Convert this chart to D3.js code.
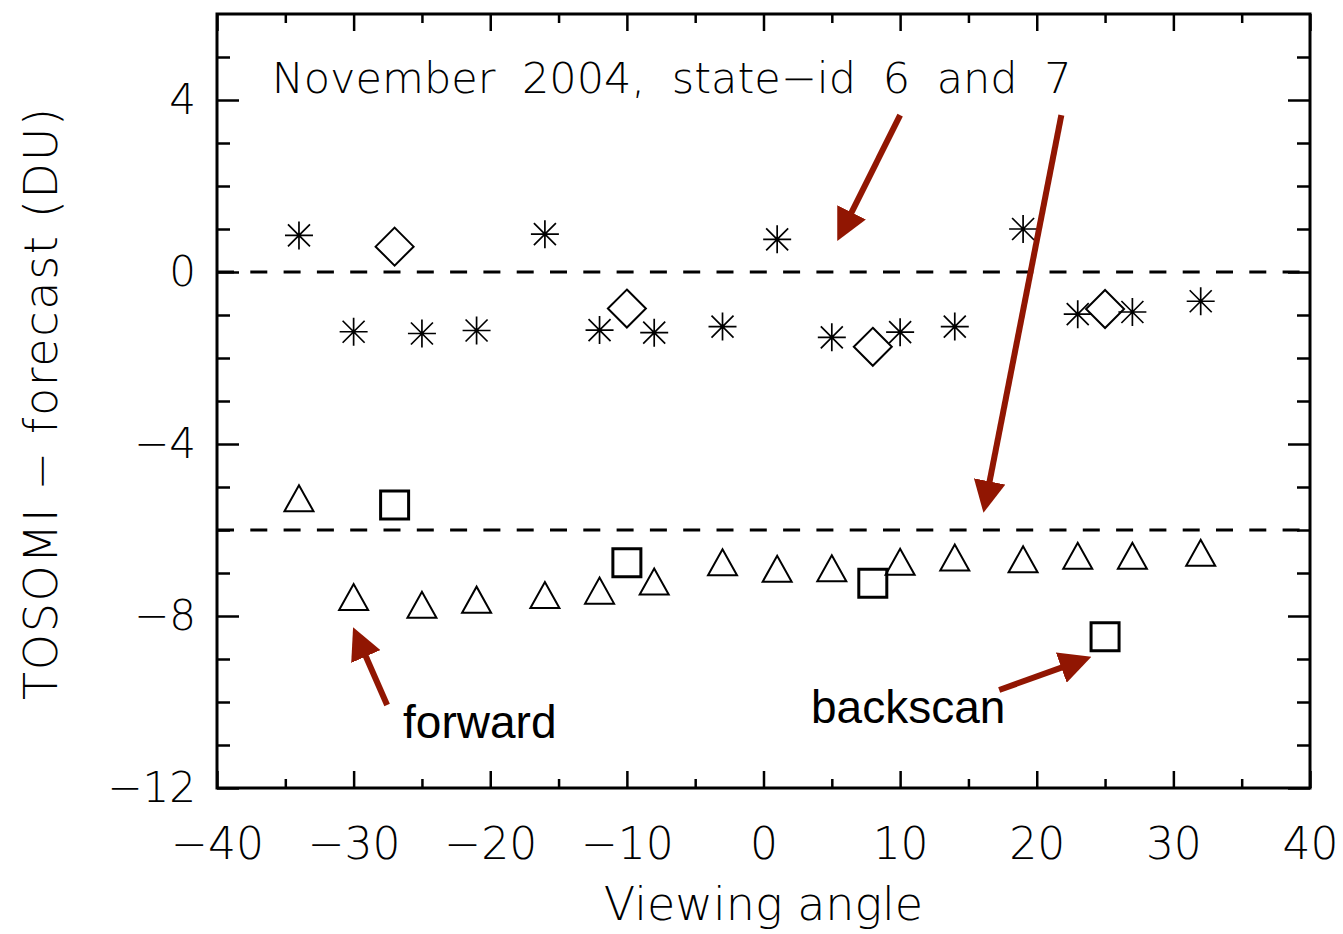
<!DOCTYPE html>
<html>
<head>
<meta charset="utf-8">
<script src="https://cdn.jsdelivr.net/npm/d3@7"></script>
<style>
  body { margin: 0; background: #fff; }
  svg text { font-family: "DejaVu Sans", sans-serif; font-weight: 200; fill: #000; }
  .note { font-family: "Liberation Sans", Arial, sans-serif; font-weight: 400; }
</style>
</head>
<body>
<div id="chart"></div>
<script>
// viewing angles and differences (DU)
var angleForward = [-34, -30, -25, -21, -16, -12, -8, -3, 1, 5, 10, 14, 19, 23, 27, 32];
var diffState6 = [0.85, -1.39, -1.43, -1.36, 0.88, -1.35, -1.41, -1.27, 0.76, -1.52, -1.40, -1.27, 1.00, -0.98, -0.93, -0.68];
var diffState7 = [-5.26, -7.56, -7.74, -7.62, -7.51, -7.41, -7.20, -6.75, -6.90, -6.89, -6.74, -6.64, -6.68, -6.60, -6.60, -6.53];
var angleBack = [-27, -10, 8, 25];
var diffBack6 = [0.59, -0.85, -1.74, -0.86];
var diffBack7 = [-5.42, -6.76, -7.24, -8.48];
var refLines = [0, -6];
var xTicks = [-40, -30, -20, -10, 0, 10, 20, 30, 40];
var xMinor = [-35, -25, -15, -5, 5, 15, 25, 35];
var yTicks = [4, 0, -4, -8, -12];
var yMinor = [5, 3, 2, 1, -1, -2, -3, -5, -6, -7, -9, -10, -11];

var W = 1343, H = 934;
var margin = {top: 14, right: 33, bottom: 146, left: 217};
var w = W - margin.left - margin.right,
    h = H - margin.top - margin.bottom;

var svg = d3.select("#chart").append("svg")
    .attr("width", W)
    .attr("height", H);

var g = svg.append("g")
    .attr("transform", "translate(" + margin.left + "," + margin.top + ")");

var x = d3.scaleLinear().domain([-40, 40]).range([0, w]);
var y = d3.scaleLinear().domain([-12, 6]).range([h, 0]);

var red = "#911602";

// dashed reference lines
g.selectAll(".ref")
    .data(refLines)
    .enter().append("line")
    .attr("x1", x(-40)).attr("x2", x(40))
    .attr("y1", d => y(d)).attr("y2", d => y(d))
    .attr("stroke", "#000")
    .attr("stroke-width", 3)
    .attr("stroke-dasharray", "17,16.3");

// tick marks, inward on all four sides
function ticks(axis, tr) {
    var a = g.append("g").attr("transform", tr).call(axis);
    a.select(".domain").remove();
    a.selectAll("line").attr("stroke", "#000").attr("stroke-width", 2.5);
    return a;
}
ticks(d3.axisBottom(x).tickValues(xTicks).tickSize(-17).tickFormat(""), "translate(0," + h + ")");
ticks(d3.axisBottom(x).tickValues(xMinor).tickSize(-9).tickFormat(""), "translate(0," + h + ")");
ticks(d3.axisTop(x).tickValues(xTicks).tickSize(-17).tickFormat(""), "translate(0,0)");
ticks(d3.axisTop(x).tickValues(xMinor).tickSize(-9).tickFormat(""), "translate(0,0)");
ticks(d3.axisLeft(y).tickValues(yTicks).tickSize(-22).tickFormat(""), "translate(0,0)");
ticks(d3.axisLeft(y).tickValues(yMinor).tickSize(-13).tickFormat(""), "translate(0,0)");
ticks(d3.axisRight(y).tickValues(yTicks).tickSize(-22).tickFormat(""), "translate(" + w + ",0)");
ticks(d3.axisRight(y).tickValues(yMinor).tickSize(-13).tickFormat(""), "translate(" + w + ",0)");

// tick labels
var xl = g.append("g").attr("transform", "translate(0," + h + ")")
    .call(d3.axisBottom(x).tickValues(xTicks).tickSize(0).tickPadding(40));
xl.select(".domain").remove();
xl.selectAll("text").style("font-size", "44px");

var yl = g.append("g")
    .call(d3.axisLeft(y).tickValues(yTicks).tickSize(0).tickPadding(21));
yl.select(".domain").remove();
yl.selectAll("text").style("font-size", "42px");

// frame
g.append("rect")
    .attr("width", w).attr("height", h)
    .attr("fill", "none")
    .attr("stroke", "#000")
    .attr("stroke-width", 3);

// symbols
var star = "M-14,0H14M0,-14V14M-11,-11L11,11M-11,11L11,-11";
var diamond = "M0,-19L19,0L0,19L-19,0Z";
var tri = "M-14.5,13L14.5,13L0,-13Z";
var square = "M-14,-14H14V14H-14Z";

function plot(xs, ys, shape, sw) {
    g.append("g").selectAll("path")
        .data(xs.map((v, i) => [v, ys[i]]))
        .enter().append("path")
        .attr("transform", d => "translate(" + x(d[0]) + "," + y(d[1]) + ")")
        .attr("d", shape)
        .attr("fill", "none")
        .attr("stroke", "#000")
        .attr("stroke-width", sw);
}
plot(angleForward, diffState6, star, 1.7);
plot(angleBack, diffBack6, diamond, 2);
plot(angleForward, diffState7, tri, 2);
plot(angleBack, diffBack7, square, 3);

// title inside the plot
g.append("text")
    .attr("x", x(-36))
    .attr("y", y(4.16))
    .style("font-size", "43px")
    .style("word-spacing", "13px")
    .text("November 2004, state\u2212id 6 and 7");

// axis titles
svg.append("text")
    .attr("x", margin.left + w / 2)
    .attr("y", 920)
    .attr("text-anchor", "middle")
    .style("font-size", "46px")
    .text("Viewing angle");

svg.append("text")
    .attr("transform", "translate(57," + 404 + ") rotate(-90)")
    .attr("text-anchor", "middle")
    .attr("textLength", 592)
    .attr("lengthAdjust", "spacing")
    .style("font-size", "46px")
    .text("TOSOMI \u2212 forecast (DU)");

// red annotation arrows
svg.append("defs").append("marker")
    .attr("id", "head")
    .attr("markerUnits", "userSpaceOnUse")
    .attr("viewBox", "0 -16 32 32")
    .attr("refX", 12).attr("refY", 0)
    .attr("markerWidth", 32).attr("markerHeight", 32)
    .attr("orient", "auto")
    .append("path")
    .attr("d", "M0,-16L32,0L0,16Z")
    .attr("fill", red);

var arrows = [
    [[10.0, 3.65], [5.4, 0.72]],
    [[21.8, 3.65], [16.1, -5.6]],
    [[-27.55, -10.07], [-30.04, -8.26]],
    [[17.25, -9.72], [24.0, -8.95]]
];
// shaft stops 20px short of the tip, the head covers the rest
function shaftEnd(d) {
    var x1 = x(d[0][0]), y1 = y(d[0][1]), x2 = x(d[1][0]), y2 = y(d[1][1]);
    var len = Math.hypot(x2 - x1, y2 - y1);
    return [x2 - (x2 - x1) / len * 20, y2 - (y2 - y1) / len * 20];
}
g.selectAll(".arrow")
    .data(arrows)
    .enter().append("line")
    .attr("x1", d => x(d[0][0])).attr("y1", d => y(d[0][1]))
    .attr("x2", d => shaftEnd(d)[0]).attr("y2", d => shaftEnd(d)[1])
    .attr("stroke", red)
    .attr("stroke-width", 6)
    .attr("marker-end", "url(#head)");

g.append("text").attr("class", "note")
    .attr("x", x(-26.38)).attr("y", y(-10.84))
    .style("font-size", "46px")
    .text("forward");

g.append("text").attr("class", "note")
    .attr("x", x(3.48)).attr("y", y(-10.49))
    .style("font-size", "46px")
    .text("backscan");
</script>
</body>
</html>
